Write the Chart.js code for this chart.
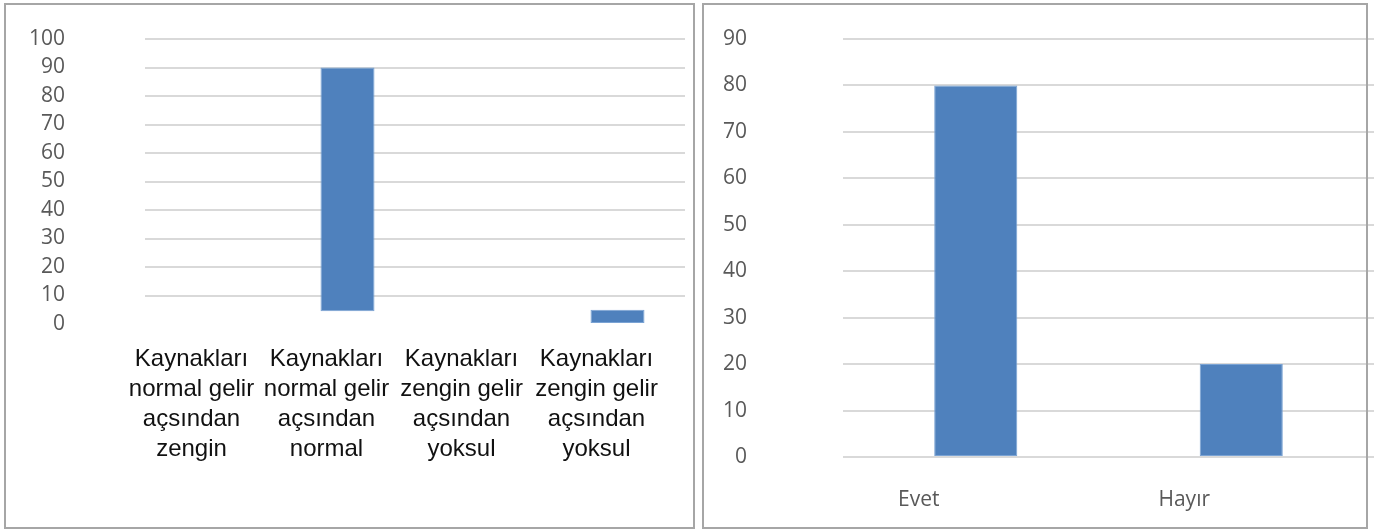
<!DOCTYPE html>
<html>
<head>
<meta charset="utf-8">
<script src="https://cdn.jsdelivr.net/npm/chart.js@4"></script>
<style>
    body { margin: 0; background: #fff; }
    .wrap { position: relative; width: 1379px; height: 529px; overflow: hidden; }
    .wrap canvas { position: absolute; top: 0; }
    .frame { position: absolute; border: 2px solid #a6a6a6; pointer-events: none; box-sizing: border-box; }
</style>
</head>
<body>
<div class="wrap">
    <canvas class="left-chart" width="693" height="529" style="left:0"></canvas>
    <canvas class="right-chart" width="686" height="529" style="left:693px"></canvas>
    <div class="frame" style="left:4px; top:3px; width:691px; height:526px"></div>
    <div class="frame" style="left:702px; top:3px; width:666px; height:526px"></div>
</div>
<script>
// Left chart data
const leftCategories = [
    ['Kaynakları', 'normal gelir', 'açsından', 'zengin'],
    ['Kaynakları', 'normal gelir', 'açsından', 'normal'],
    ['Kaynakları', 'zengin gelir', 'açsından', 'yoksul'],
    ['Kaynakları', 'zengin gelir', 'açsından', 'yoksul']
];
const leftBase = [0, 4.5, 0, 0];
const leftValues = [0, 90, 0, 5];

// Right chart data
const rightCategories = ['Evet', 'Hayır'];
const rightValues = [80, 20];

const barBlue = '#4f81bd';
const gridGray = '#d9d9d9';
const tickGray = '#595959';
const tickFont = { family: 'Open Sans', size: 21 };

Chart.defaults.animation = false;

// y axis keeps a fixed width and no extra top/bottom padding from the big tick padding
function fixYAxis(width) {
    return function (scale) {
        scale.width = width;
        scale.paddingTop = 0;
        scale.paddingBottom = 0;
    };
}

const ctxLeft = document.querySelector('.left-chart').getContext('2d');

const leftChart = new Chart(ctxLeft, {
    type: 'bar',
    data: {
        labels: leftCategories,
        datasets: [{
            data: leftValues.map((v, i) => v ? [leftBase[i], v] : null),
            backgroundColor: barBlue,
            borderColor: '#7aa3d4',
            borderWidth: 1,
            borderSkipped: false,
            barPercentage: 0.4,
            categoryPercentage: 1
        }]
    },
    options: {
        responsive: false,
        layout: { padding: { left: 0, right: 8, top: 39, bottom: 0 } },
        plugins: { legend: { display: false }, tooltip: { enabled: false } },
        scales: {
            x: {
                grid: { display: false },
                border: { display: false },
                ticks: {
                    color: '#111',
                    font: { family: 'Liberation Sans', size: 24, lineHeight: '30px' },
                    padding: 12,
                    labelOffset: -21,
                    maxRotation: 0,
                    autoSkip: false
                },
                afterFit: function (scale) { scale.height = 205; }
            },
            y: {
                min: 0,
                max: 100,
                ticks: {
                    stepSize: 10,
                    autoSkip: false,
                    color: tickGray,
                    font: tickFont,
                    padding: 80
                },
                grid: {
                    drawTicks: false,
                    lineWidth: 2,
                    color: function (c) { return c.tick && c.tick.value === 0 ? 'rgba(0,0,0,0)' : gridGray; }
                },
                border: { display: false },
                afterFit: fixYAxis(145)
            }
        }
    }
});

const ctxRight = document.querySelector('.right-chart').getContext('2d');

const rightChart = new Chart(ctxRight, {
    type: 'bar',
    data: {
        labels: rightCategories,
        datasets: [{
            data: rightValues,
            backgroundColor: barBlue,
            borderColor: '#7aa3d4',
            borderWidth: 1,
            borderSkipped: false,
            barPercentage: 0.313,
            categoryPercentage: 1
        }]
    },
    options: {
        responsive: false,
        layout: { padding: { left: 0, right: 5, top: 39, bottom: 0 } },
        plugins: { legend: { display: false }, tooltip: { enabled: false } },
        scales: {
            x: {
                grid: { display: false },
                border: { display: false },
                ticks: {
                    color: tickGray,
                    font: tickFont,
                    padding: 22,
                    labelOffset: -57,
                    maxRotation: 0
                },
                afterFit: function (scale) { scale.height = 72; }
            },
            y: {
                min: 0,
                max: 90,
                ticks: {
                    stepSize: 10,
                    autoSkip: false,
                    color: tickGray,
                    font: tickFont,
                    padding: 96
                },
                grid: { drawTicks: false, lineWidth: 2, color: gridGray },
                border: { display: false },
                afterFit: fixYAxis(150)
            }
        }
    }
});
</script>
</body>
</html>
